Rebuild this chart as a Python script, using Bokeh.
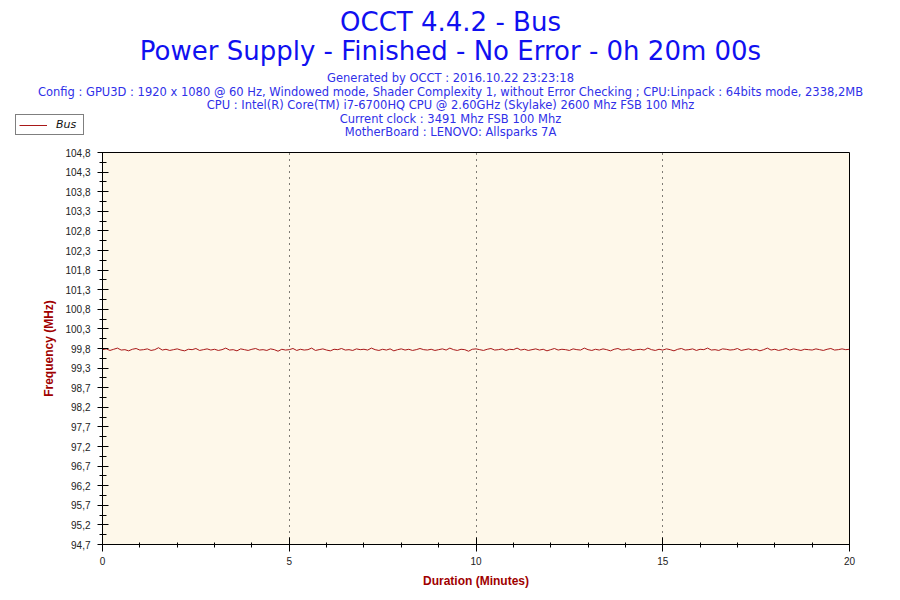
import numpy as np
from bokeh.plotting import figure
from bokeh.layouts import column
from bokeh.models import Label, Legend, LegendItem, FixedTicker, Range1d
from bokeh.embed import file_html
from bokeh.resources import INLINE

title_lines = ["OCCT 4.4.2 - Bus", "Power Supply - Finished - No Error - 0h 20m 00s"]
info_lines = [
    "Generated by OCCT : 2016.10.22 23:23:18",
    "Config : GPU3D : 1920 x 1080 @ 60 Hz, Windowed mode, Shader Complexity 1, without Error Checking ; CPU:Linpack : 64bits mode, 2338,2MB",
    "CPU : Intel(R) Core(TM) i7-6700HQ CPU @ 2.60GHz (Skylake) 2600 Mhz FSB 100 Mhz",
    "Current clock : 3491 Mhz FSB 100 Mhz",
    "MotherBoard : LENOVO: Allsparks 7A",
]
series_name = "Bus"
x_label = "Duration (Minutes)"
y_label = "Frequency (MHz)"

x_major = [0, 5, 10, 15, 20]
x_minor = list(range(0, 21))
y_tick_values = [94.7, 95.205, 95.71, 96.215, 96.72, 97.225, 97.73, 98.235, 98.74, 99.245,
                 99.75, 100.255, 100.76, 101.265, 101.77, 102.275, 102.78, 103.285, 103.79,
                 104.295, 104.8]
y_tick_labels = ["94,7", "95,2", "95,7", "96,2", "96,7", "97,2", "97,7", "98,2", "98,7", "99,3",
                 "99,8", "100,3", "100,8", "101,3", "101,8", "102,3", "102,8", "103,3", "103,8",
                 "104,3", "104,8"]

bus_mhz = [
    99.72, 99.74, 99.70, 99.73, 99.76, 99.71, 99.72, 99.69, 99.73, 99.75,
    99.71, 99.72, 99.74, 99.70, 99.72, 99.77, 99.71, 99.73, 99.70, 99.72,
    99.74, 99.71, 99.69, 99.73, 99.72, 99.75, 99.70, 99.72, 99.74, 99.71,
    99.73, 99.70, 99.72, 99.76, 99.71, 99.72, 99.69, 99.74, 99.72, 99.70,
    99.73, 99.75, 99.71, 99.72, 99.70, 99.74, 99.72, 99.68, 99.73, 99.71,
    99.72, 99.75, 99.70, 99.73, 99.71, 99.72, 99.76, 99.70, 99.72, 99.74,
    99.71, 99.69, 99.73, 99.72, 99.75, 99.71, 99.72, 99.70, 99.74, 99.72,
    99.73, 99.71, 99.76, 99.72, 99.70, 99.73, 99.71, 99.74, 99.69, 99.72,
    99.74, 99.71, 99.73, 99.70, 99.72, 99.75, 99.72, 99.71, 99.73, 99.70,
    99.72, 99.74, 99.71, 99.76, 99.72, 99.70, 99.73, 99.72, 99.68, 99.73,
    99.74, 99.72, 99.70, 99.73, 99.75, 99.71, 99.72, 99.74, 99.70, 99.73,
    99.72, 99.76, 99.71, 99.73, 99.70, 99.72, 99.74, 99.71, 99.73, 99.69,
    99.72, 99.75, 99.71, 99.73, 99.72, 99.70, 99.74, 99.72, 99.71, 99.76,
    99.72, 99.70, 99.73, 99.71, 99.74, 99.72, 99.69, 99.73, 99.75, 99.71,
    99.72, 99.74, 99.70, 99.72, 99.73, 99.71, 99.76, 99.72, 99.70, 99.73,
    99.71, 99.74, 99.72, 99.69, 99.73, 99.75, 99.71, 99.72, 99.74, 99.70,
    99.73, 99.72, 99.76, 99.71, 99.72, 99.70, 99.74, 99.73, 99.71, 99.72,
    99.75, 99.70, 99.72, 99.74, 99.71, 99.73, 99.69, 99.72, 99.76, 99.71,
    99.73, 99.70, 99.72, 99.75, 99.71, 99.74, 99.72, 99.70, 99.73, 99.72,
    99.71, 99.74, 99.72, 99.70, 99.73, 99.75, 99.71, 99.72, 99.74, 99.72,
    99.73,
]
duration_min = [i * 20.0 / (len(bus_mhz) - 1) for i in range(len(bus_mhz))]

LINE_COLOR = "#A81818"
HEADER_H = 140

# ---------------- header: titles, info lines and legend ----------------
head = figure(width=900, height=HEADER_H, output_backend="svg", toolbar_location=None, title=None,
              x_range=Range1d(0, 900), y_range=Range1d(HEADER_H, 0),
              x_axis_type=None, y_axis_type=None, min_border=0)
head.frame_align = False
head.outline_line_color = None
head.background_fill_color = "white"
head.border_fill_color = "white"
head.grid.visible = False

title_baselines = [21.0, 50.5]
for t, yb in zip(title_lines, title_baselines):
    head.add_layout(Label(x=450, y=yb, text=t, text_align="center", text_baseline="alphabetic",
                          text_font="DejaVu Sans", text_font_size="26px", text_color="#1010F0"))
info_baselines = [77.6, 91.4, 104.9, 118.3, 131.3]
for t, yb in zip(info_lines, info_baselines):
    head.add_layout(Label(x=450, y=yb, text=t, text_align="center", text_baseline="alphabetic",
                          text_font="DejaVu Sans", text_font_size="11.5px", text_color="#3030E8"))

# legend entry for the "Bus" series (same styling as the chart line; holds no points of its own)
legend_glyph = head.line(x=np.array([np.nan]), y=np.array([np.nan]), line_color=LINE_COLOR, line_width=1)
legend = Legend(items=[LegendItem(label=series_name, renderers=[legend_glyph])],
                location=(15, 4.7), border_line_color="black", border_line_width=1,
                background_fill_color="white", background_fill_alpha=1,
                label_text_font="DejaVu Sans", label_text_font_style="italic",
                label_text_font_size="11px", label_text_color="#111111",
                glyph_width=28, glyph_height=12, label_height=12, label_width=24, label_standoff=9,
                padding=3, margin=0, spacing=0)
head.add_layout(legend, "center")

# ---------------- main chart ----------------
p = figure(width=900, height=600 - HEADER_H, output_backend="svg", toolbar_location=None, title=None,
           x_range=(0, 20), y_range=(94.7, 104.8),
           min_border_left=102, min_border_right=51, min_border_top=152 - HEADER_H, min_border_bottom=56)
p.frame_align = False
p.background_fill_color = "#FEF8EA"
p.border_fill_color = "white"
p.outline_line_color = "black"
p.outline_line_width = 1

p.line(duration_min, bus_mhz, line_color=LINE_COLOR, line_width=1)

p.xaxis.ticker = FixedTicker(ticks=x_major, minor_ticks=x_minor)
p.yaxis.ticker = FixedTicker(ticks=y_tick_values,
                             minor_ticks=[(a + b) / 2 for a, b in zip(y_tick_values[:-1], y_tick_values[1:])])
p.yaxis.major_label_overrides = {v: l for v, l in zip(y_tick_values, y_tick_labels)}
for ax in (p.xaxis, p.yaxis):
    ax.axis_line_color = "black"
    ax.major_tick_line_color = "black"
    ax.minor_tick_line_color = "black"
    ax.major_label_text_font = "Liberation Sans"
    ax.major_label_text_font_size = "10px"
    ax.major_label_text_color = "#222222"
    ax.axis_label_text_font = "Liberation Sans"
    ax.axis_label_text_font_size = "12px"
    ax.axis_label_text_font_style = "bold"
    ax.axis_label_text_color = "#A00000"
p.xaxis.axis_label = x_label
p.yaxis.axis_label = y_label
p.xaxis.major_tick_in = 7
p.xaxis.major_tick_out = 7
p.xaxis.minor_tick_in = 2
p.xaxis.minor_tick_out = 3
p.xaxis.major_label_standoff = 5
p.xaxis.axis_label_standoff = 6
p.yaxis.major_tick_in = 6
p.yaxis.major_tick_out = 5
p.yaxis.minor_tick_in = 4
p.yaxis.minor_tick_out = 3
p.yaxis.major_label_standoff = 7
p.yaxis.axis_label_standoff = 6

p.ygrid.visible = False
p.xgrid.ticker = FixedTicker(ticks=[5, 10, 15])
p.xgrid.grid_line_color = "black"
p.xgrid.grid_line_dash = "1 5"
p.xgrid.grid_line_width = 1

layout = column(head, p, spacing=0)
open("out.html", "w").write(file_html(layout, INLINE))
